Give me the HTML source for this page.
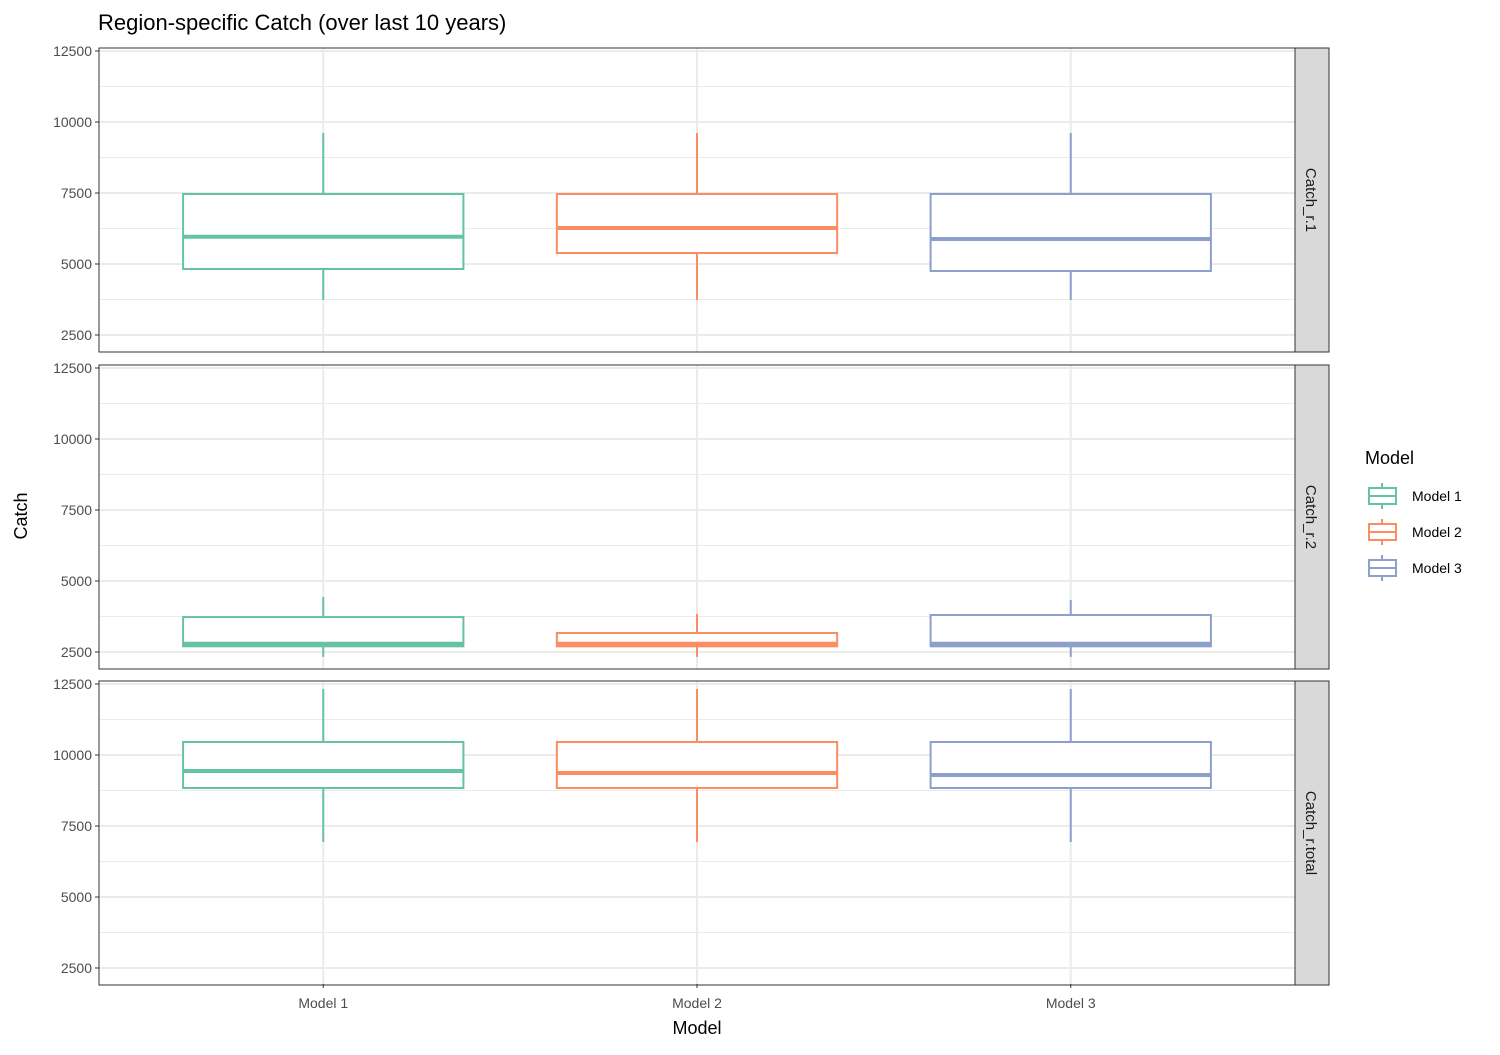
<!DOCTYPE html>
<html><head><meta charset="utf-8"><style>
body{margin:0;background:#fff;font-family:"Liberation Sans",Arial,sans-serif}
svg text{font-family:"Liberation Sans",Arial,sans-serif}
</style></head><body>
<svg id="c" width="1500" height="1050" viewBox="0 0 1500 1050" xmlns="http://www.w3.org/2000/svg">
<text x="98" y="30" font-size="22" fill="#000">Region-specific Catch (over last 10 years)</text>
<text x="697" y="1034" font-size="18" text-anchor="middle">Model</text>
<text transform="translate(27,516) rotate(-90)" font-size="18" text-anchor="middle">Catch</text>
<g id="g"></g>
</svg>
<script>
const categories = ["Model 1","Model 2","Model 3"];
const facets = ["Catch_r.1","Catch_r.2","Catch_r.total"];
const colors = ["#66C2A5","#FC8D62","#8DA0CB"];
const yTicks = [2500,5000,7500,10000,12500];
// [lower whisker, Q1, median, Q3, upper whisker] per model
const r1Values = [[3733,4824,5960,7465,9613],[3733,5387,6268,7465,9613],[3733,4754,5880,7465,9613]];
const r2Values = [[2330,2700,2790,3730,4437],[2330,2700,2790,3169,3838],[2330,2700,2790,3803,4331]];
const totalValues = [[6937,8838,9437,10458,12324],[6937,8838,9366,10458,12324],[6937,8838,9296,10458,12324]];
const allValues = [r1Values,r2Values,totalValues];

const NS="http://www.w3.org/2000/svg";
const g=document.getElementById('g');
function mk(t,a,p){const e=document.createElementNS(NS,t);for(const k in a)e.setAttribute(k,a[k]);(p||g).appendChild(e);return e;}
const X0=99,X1=1295;
const panelTops=[48,365,681], PH=304;
const step=(X1-X0)/(categories.length-1+1.2);
const xPos=i=>X0+(0.6+i)*step;
const bw=0.75*step;
panelTops.forEach((top,p)=>{
  const y=v=>top+3+(12500-v)/2500*71;
  const pg=mk('g',{});
  
  
  mk('rect',{x:X0,y:top,width:X1-X0,height:PH,fill:'#fff'},pg);
  for(let i=0;i<yTicks.length-1;i++){const m=(yTicks[i]+yTicks[i+1])/2;
    mk('line',{x1:X0,x2:X1,y1:y(m),y2:y(m),stroke:'#ebebeb','stroke-width':1},pg);}
  yTicks.forEach(t=>{
    mk('line',{x1:X0,x2:X1,y1:y(t),y2:y(t),stroke:'#ebebeb','stroke-width':2},pg);
    mk('line',{x1:X0-4,x2:X0,y1:y(t),y2:y(t),stroke:'#333','stroke-width':1},pg);
    const tx=mk('text',{x:X0-7,y:y(t)+5,'font-size':14,fill:'#4d4d4d','text-anchor':'end'},pg);tx.textContent=t;
    
    
  });
  categories.forEach((c,i)=>mk('line',{x1:xPos(i),x2:xPos(i),y1:top,y2:top+PH,stroke:'#ebebeb','stroke-width':2},pg));
  allValues[p].forEach((v,i)=>{
    const cx=xPos(i),col=colors[i];
    const bg=mk('g',{},pg);
    
    
    mk('line',{x1:cx,x2:cx,y1:y(v[4]),y2:y(v[3]),stroke:col,'stroke-width':2},bg);
    mk('line',{x1:cx,x2:cx,y1:y(v[1]),y2:y(v[0]),stroke:col,'stroke-width':2},bg);
    mk('rect',{x:cx-bw/2,y:y(v[3]),width:bw,height:y(v[1])-y(v[3]),fill:'#fff',stroke:col,'stroke-width':2},bg);
    mk('line',{x1:cx-bw/2,x2:cx+bw/2,y1:y(v[2]),y2:y(v[2]),stroke:col,'stroke-width':4},bg);
  });
  mk('rect',{x:X0,y:top,width:X1-X0,height:PH,fill:'none',stroke:'#333','stroke-width':1},pg);
  const s=mk('rect',{x:X1,y:top,width:34,height:PH,fill:'#d9d9d9',stroke:'#333','stroke-width':1},pg);
  
  
  const st=mk('text',{transform:`translate(${X1+11},${top+PH/2}) rotate(90)`,'font-size':15,fill:'#1a1a1a','text-anchor':'middle'},pg);
  st.textContent=facets[p];
  
  
});
categories.forEach((c,i)=>{
  mk('line',{x1:xPos(i),x2:xPos(i),y1:984,y2:988,stroke:'#333'});
  const t=mk('text',{x:xPos(i),y:1008,'font-size':14,fill:'#4d4d4d','text-anchor':'middle'});t.textContent=c;
  
  
});
const lt=mk('text',{x:1365,y:464,'font-size':18});lt.textContent='Model';


categories.forEach((c,i)=>{
  const cy=496+i*36,col=colors[i];
  const lg=mk('g',{});
  
  
  mk('line',{x1:1382,x2:1382,y1:cy-13,y2:cy+13,stroke:col,'stroke-width':2},lg);
  mk('rect',{x:1369,y:cy-8,width:27,height:16,fill:'#fff',stroke:col,'stroke-width':2},lg);
  mk('line',{x1:1369,x2:1396,y1:cy,y2:cy,stroke:col,'stroke-width':2},lg);
  const t=mk('text',{x:1412,y:cy+5,'font-size':14},lg);t.textContent=c;
});
</script>
</body></html>
